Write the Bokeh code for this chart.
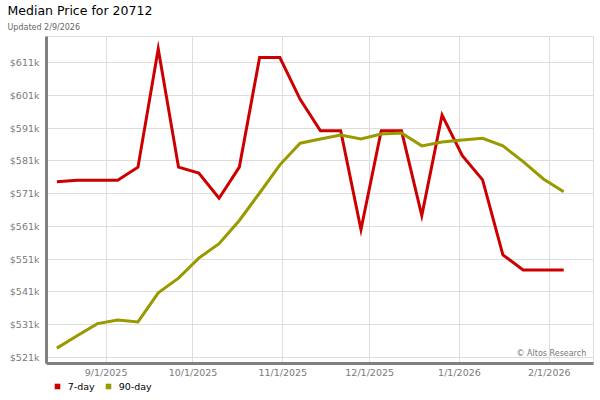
import pandas as pd
from bokeh.plotting import figure
from bokeh.layouts import column
from bokeh.models import (Range1d, DatetimeTickFormatter, Label, Legend, LegendItem, Title)
from bokeh.embed import file_html
from bokeh.resources import INLINE

# ---- data -------------------------------------------------------------
TITLE = "Median Price for 20712"
SUBTITLE = "Updated 2/9/2026"
CREDIT = "\u00a9 Altos Research"

dates = list(pd.date_range("2025-08-15", periods=26, freq="7D"))

seven_day = [574600, 575100, 575100, 575100, 579100, 615200, 579100, 577300,
             569600, 579100, 612600, 612600, 599800, 590200, 590200, 560000,
             590200, 590200, 564300, 595000, 582600, 575200, 552300, 547700,
             547700, 547700]

ninety_day = [523800, 527600, 531300, 532400, 531800, 540700, 545200, 551300,
              555700, 562800, 571200, 579800, 586400, 587700, 588900, 587700,
              589200, 589500, 585600, 586800, 587400, 587900, 585600, 580800,
              575500, 571600]

series_names = ["7-day", "90-day"]
series_colors = ["#cc0000", "#999900"]

x_tick_dates = ["2025-09-01", "2025-10-01", "2025-11-01", "2025-12-01",
                "2026-01-01", "2026-02-01"]
y_ticks = [521000, 531000, 541000, 551000, 561000, 571000, 581000, 591000,
           601000, 611000]
y_tick_labels = ["$521k", "$531k", "$541k", "$551k", "$561k", "$571k",
                 "$581k", "$591k", "$601k", "$611k"]

# ---- main figure ------------------------------------------------------
FONT = "DejaVu Sans"
W, H1, H2 = 600, 380, 20
ML, MR, MT, MB = 46, 7, 36, 16

x_range = Range1d(pd.Timestamp("2025-08-11 10:00"), pd.Timestamp("2026-02-16 07:00"))
y_range = Range1d(519110, 619010)

p = figure(width=W, height=H1, x_axis_type="datetime",
           x_range=x_range, y_range=y_range,
           output_backend="svg", toolbar_location=None,
           min_border_left=ML, min_border_right=MR,
           min_border_top=MT, min_border_bottom=MB)

p.background_fill_color = "white"
p.border_fill_color = "white"
p.outline_line_color = "#dddddd"
p.outline_line_width = 1

fmt = "%-m/%-d/%Y"
p.xaxis.ticker = [pd.Timestamp(d).value / 1e6 for d in x_tick_dates]
p.xaxis.formatter = DatetimeTickFormatter(days=fmt, months=fmt, years=fmt,
                                          hours=fmt, minutes=fmt, seconds=fmt)
p.yaxis.ticker = y_ticks
p.yaxis.major_label_overrides = dict(zip(y_ticks, y_tick_labels))

for ax in (p.xaxis[0], p.yaxis[0]):
    ax.axis_line_color = "#808080"
    ax.axis_line_width = 3
    ax.major_tick_line_color = None
    ax.minor_tick_line_color = None
    ax.major_tick_out = 0
    ax.major_tick_in = 0
    ax.major_label_text_font = FONT
    ax.major_label_text_font_size = "9.5px"
    ax.major_label_text_color = "#7a7a7a"
p.xaxis.major_label_standoff = 3
p.yaxis.major_label_standoff = 7

for g in (p.xgrid[0], p.ygrid[0]):
    g.grid_line_color = "#dddddd"
    g.grid_line_width = 1

for name, vals, col in zip(series_names, [seven_day, ninety_day], series_colors):
    p.line(dates, vals, line_color=col, line_width=3, line_join="miter")

p.add_layout(Title(text=SUBTITLE, text_font=FONT, text_font_size="8px",
                   text_font_style="normal", text_color="#666666",
                   align="left", offset=-39, standoff=9), "above")
p.add_layout(Title(text=TITLE, text_font=FONT, text_font_size="12.5px",
                   text_font_style="normal", text_color="#000000",
                   align="left", offset=-39, standoff=-3), "above")
p.add_layout(Label(x=539.7, y=9.7, x_units="screen", y_units="screen",
                   text=CREDIT, text_font=FONT, text_font_size="8px",
                   text_color="#777777", text_align="right", text_baseline="middle"))

# ---- legend strip -----------------------------------------------------
lg = figure(width=W, height=H2, x_axis_type="datetime",
            x_range=x_range, y_range=y_range,
            output_backend="svg", toolbar_location=None,
            x_axis_location=None, y_axis_location=None, min_border=0)
lg.grid.visible = False
lg.outline_line_color = None
lg.background_fill_color = "white"
lg.border_fill_color = "white"

items = []
for name, vals, col in zip(series_names, [seven_day, ninety_day], series_colors):
    key = lg.scatter(dates, vals, marker="square", size=0,
                     fill_color=col, line_color=None)
    items.append(LegendItem(label=name, renderers=[key]))

legend = Legend(items=items, orientation="horizontal", location=(3.7, 7),
                padding=0, margin=0, spacing=6, glyph_width=14, glyph_height=14,
                label_height=12, label_standoff=4, label_text_font=FONT,
                label_text_font_size="9.5px", label_text_color="#000000",
                border_line_color=None, background_fill_alpha=0)
lg.add_layout(legend)

layout = column(p, lg, spacing=0)
open("out.html", "w").write(file_html(layout, INLINE))
